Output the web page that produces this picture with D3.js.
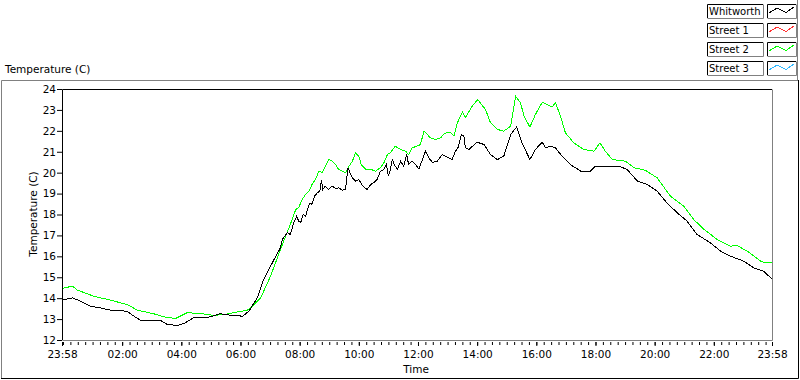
<!DOCTYPE html>
<html><head><meta charset="utf-8">
<script src="https://cdn.jsdelivr.net/npm/d3@7"></script>
<style>
html,body{margin:0;padding:0;background:#fff;}
svg{display:block;font-family:"DejaVu Sans",sans-serif;font-size:10.5px;}
</style></head><body>
<svg id="chart" width="800" height="380"></svg>
<script>
// minutes after 23:58 and temperature (C)
const seriesNames=["Whitworth","Street 1","Street 2","Street 3"];
const seriesColors=["#000000","#ff3030","#00ff00","#30b8ff"];

const whitworthMin=[0,20,37,57,77,97,131,145,158,199,212,233,246,266,293,320,341,358,364,378,
  395,408,429,442,446,456,462,469,475,479,483,488,493,498,502,506,511,517,522,525,
  528,533,540,547,554,560,567,574,576,579,583,588,594,601,608,613,618,625,631,638,
  645,652,657,661,665,669,673,679,686,692,698,702,709,716,723,730,736,743,750,760,
  770,777,784,790,797,802,809,814,817,824,841,855,868,882,895,909,921,932,948,959,
  973,980,990,1000,1013,1030,1051,1071,1079,1111,1132,1145,1166,1186,1206,1226,1247,1267,1287,1314,
  1335,1355,1382,1402,1422,1440];
const whitworthTemp=[13.93,14.04,13.88,13.64,13.56,13.45,13.4,13.16,12.97,12.96,12.77,12.72,12.81,13.09,13.09,13.28,13.21,13.21,13.13,13.4,
  14.04,14.92,15.87,16.43,16.83,17.15,17.07,17.63,17.94,17.71,17.63,18.02,17.94,18.35,18.58,18.5,18.9,19.06,19.14,19.66,
  19.22,19.38,19.22,19.38,19.26,19.3,19.19,19.22,19.62,20.26,20.02,19.78,19.62,19.7,19.41,19.3,19.22,19.46,19.54,19.7,
  20.1,20.18,20.41,19.86,20.18,20.65,20.41,20.18,20.57,20.33,20.89,20.41,20.57,20.41,20.2,20.65,21.05,20.73,20.52,20.57,
  20.89,20.81,20.73,20.65,21.05,21.21,21.85,21.77,21.21,21.13,21.48,21.37,20.89,20.65,20.81,21.85,22.21,21.45,20.65,21.13,
  21.48,21.21,21.29,21.21,20.81,20.41,20.1,20.1,20.3,20.33,20.3,20.18,19.62,19.46,19.14,18.58,18.1,17.7,17.07,16.67,
  16.27,16.03,15.79,15.47,15.31,14.92];

const street1Min=[];
const street1Temp=[];

const street2Min=[0,20,30,63,97,131,152,185,205,229,253,280,307,327,347,375,385,402,422,442,
  462,468,473,479,486,493,500,506,513,520,527,533,540,547,554,560,567,574,581,588,
  594,601,606,615,625,635,645,652,659,665,675,686,696,702,709,719,726,733,740,746,
  757,767,773,780,787,794,801,811,817,831,842,858,868,882,895,909,919,929,936,948,
  959,973,983,993,1000,1010,1020,1037,1057,1078,1090,1101,1115,1142,1159,1182,1206,1233,1260,1280,
  1301,1328,1355,1368,1389,1416,1426,1440];
const street2Temp=[14.49,14.6,14.41,14.12,13.93,13.72,13.45,13.28,13.13,13.05,13.33,13.29,13.2,13.24,13.33,13.45,13.64,14.04,15.08,16.35,
  17.55,17.94,18.26,18.35,18.74,18.98,19.14,19.46,19.7,20.1,20.02,20.33,20.65,20.57,20.41,20.18,20.1,20.02,20.33,20.57,
  20.97,20.81,20.41,20.18,20.18,20.1,20.26,20.5,20.89,20.97,21.29,21.13,21.05,20.89,21.21,21.29,21.37,22.01,21.85,21.69,
  21.61,21.69,21.85,21.96,21.93,21.77,22.41,22.92,22.65,23.2,23.52,23.04,22.41,22.09,22.01,22.25,23.68,23.36,22.73,22.2,
  22.8,23.39,23.28,23.17,23.36,22.73,21.93,21.45,21.13,21.05,21.45,21.05,20.65,20.57,20.26,20.14,19.78,18.9,18.42,17.79,
  17.31,16.83,16.51,16.54,16.27,15.79,15.71,15.71];

const street3Min=[];
const street3Temp=[];

const yTicks=[12,13,14,15,16,17,18,19,20,21,22,23,24];
const xTickMinutes=[0,122,242,362,482,602,722,842,962,1082,1202,1322,1440];
const xTickLabels=["23:58","02:00","04:00","06:00","08:00","10:00","12:00","14:00","16:00","18:00","20:00","22:00","23:58"];

const svg=d3.select("#chart");
const w=800,h=380,m={top:89,right:28,bottom:40,left:62};

const x=d3.scaleLinear().domain([0,1440]).range([m.left,w-m.right]);
const y=d3.scaleLinear().domain([12,24]).range([h-m.bottom,m.top]);

// outer sunken frame
svg.append("path").attr("d",`M1.5,379 V80.5 H798`).attr("fill","none").attr("stroke","#808080");
svg.append("path").attr("d",`M1,378.5 H798.5 V80`).attr("fill","none").attr("stroke","#000");
svg.append("path").attr("d",`M797.5,0 V80`).attr("fill","none").attr("stroke","#808080");

svg.append("text").attr("x",5).attr("y",73).text("Temperature (C)");

// plot box
svg.append("path").attr("d",`M${m.left+0.5},${h-m.bottom} V${m.top+0.5} H${w-m.right}`)
  .attr("fill","none").attr("stroke","#000");
svg.append("path").attr("d",`M${m.left+0.5},${h-m.bottom+0.5} H${w-m.right+0.5} V${m.top+0.5}`)
  .attr("fill","none").attr("stroke","#808080");

const yAxis=svg.append("g")
  .attr("transform",`translate(${m.left},0)`)
  .call(d3.axisLeft(y).tickValues(yTicks).tickSize(5).tickPadding(1).tickFormat(d3.format("d")));
yAxis.select(".domain").remove();

const xMinor=svg.append("g")
  .attr("transform",`translate(0,${h-m.bottom+2})`)
  .call(d3.axisBottom(x).tickValues(d3.range(2,1440,15)).tickSize(3).tickFormat(""));
xMinor.select(".domain").remove();

const xAxis=svg.append("g")
  .attr("transform",`translate(0,${h-m.bottom+2})`)
  .call(d3.axisBottom(x).tickValues(xTickMinutes).tickSize(4).tickPadding(5).tickFormat((d,i)=>xTickLabels[i]));
xAxis.select(".domain").remove();

svg.selectAll(".tick text").attr("font-family","DejaVu Sans").attr("font-size","10.5px").attr("fill","#000");
svg.selectAll(".tick line").attr("stroke","#000");

svg.append("text").attr("x",416).attr("y",373).attr("text-anchor","middle").text("Time");
svg.append("text")
  .attr("transform","translate(36.5,214) rotate(-90)")
  .attr("text-anchor","middle")
  .text("Temperature (C)");

svg.append("clipPath").attr("id","plotClip")
  .append("rect").attr("x",m.left+1).attr("y",m.top+1)
  .attr("width",w-m.right-m.left-1).attr("height",h-m.bottom-m.top);

const series=[
  {name:seriesNames[0],color:seriesColors[0],values:whitworthMin.map((t,i)=>({t,v:whitworthTemp[i]}))},
  {name:seriesNames[1],color:seriesColors[1],values:street1Min.map((t,i)=>({t,v:street1Temp[i]}))},
  {name:seriesNames[2],color:seriesColors[2],values:street2Min.map((t,i)=>({t,v:street2Temp[i]}))},
  {name:seriesNames[3],color:seriesColors[3],values:street3Min.map((t,i)=>({t,v:street3Temp[i]}))}
];

const line=d3.line().x(d=>x(d.t)+0.5).y(d=>y(d.v)+0.5);

svg.append("g").attr("clip-path","url(#plotClip)")
  .selectAll("path")
  .data([series[2],series[0],series[1],series[3]].filter(s=>s.values.length))
  .join("path")
  .attr("d",d=>line(d.values))
  .attr("fill","none")
  .attr("stroke",d=>d.color)
  .attr("stroke-width",1)
  .attr("shape-rendering","crispEdges");

// legend
const swatch=d3.line();
const swatchPts=[[2,9],[10,4],[19,8.5],[27,3]];
const lg=svg.append("g").selectAll("g").data(series).join("g")
  .attr("transform",(d,i)=>`translate(0,${4+i*19})`);
lg.append("path").attr("d","M707.5,14 V0.5 H763").attr("fill","none").attr("stroke","#000");
lg.append("path").attr("d","M707.5,14.5 H763.5 V0.5").attr("fill","none").attr("stroke","#808080");
lg.append("text").attr("x",709).attr("y",11).attr("font-size","10px").text(d=>d.name);
lg.append("path").attr("d","M767.5,14 V0.5 H796").attr("fill","none").attr("stroke","#000");
lg.append("path").attr("d","M767.5,14.5 H796.5 V0.5").attr("fill","none").attr("stroke","#808080");
lg.append("path")
  .attr("d",swatch(swatchPts.map(p=>[767+p[0],p[1]])))
  .attr("fill","none").attr("stroke",d=>d.color).attr("shape-rendering","crispEdges");
</script>
</body></html>
